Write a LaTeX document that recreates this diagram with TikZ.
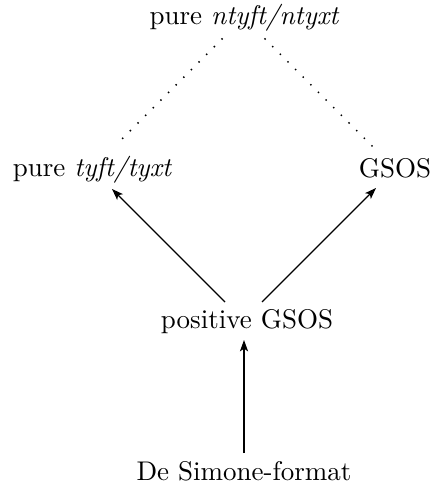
\documentclass[tikz,border=0pt]{standalone}
\usetikzlibrary{arrows.meta,calc}
\begin{document}
\begin{tikzpicture}[x=0.3704pt,y=-0.3704pt,
  lbl/.style={anchor=base,inner sep=0pt,font=\fontsize{10}{12}\selectfont},
  arr/.style={-{Stealth[length=4.2pt,width=3pt,inset=1pt]},line width=0.45pt},
  dots/.style={line width=0.75pt,line cap=round,dash pattern=on 0pt off 4pt}]
\useasboundingbox (0,0) rectangle (432,488);
\node[lbl] (top) at (244.5,25) {pure \textit{ntyft/ntyxt}};
\node[lbl] (tyft) at (92.5,177) {pure \textit{tyft/tyxt}};
\node[lbl] (gsos) at (395,177.5) {GSOS};
\node[lbl] (pos) at (247,328) {positive GSOS};
\node[lbl] (ds) at (244,480) {De Simone-format};
\draw[dots] ($(top.base)+(-22.5,14)$) -- ($(tyft.base)+(23.5,-32)$);
\draw[dots] ($(top.base)+(20.5,14)$) -- ($(gsos.base)+(-23,-31.5)$);
\draw[arr] ($(pos.base)+(-22,-26)$) -- ($(tyft.base)+(19.5,12)$);
\draw[arr] ($(pos.base)+(15,-26)$) -- ($(gsos.base)+(-19,10.5)$);
\draw[arr] ($(ds.base)+(0,-27)$) -- ($(pos.base)+(-3,12)$);
\end{tikzpicture}
\end{document}
